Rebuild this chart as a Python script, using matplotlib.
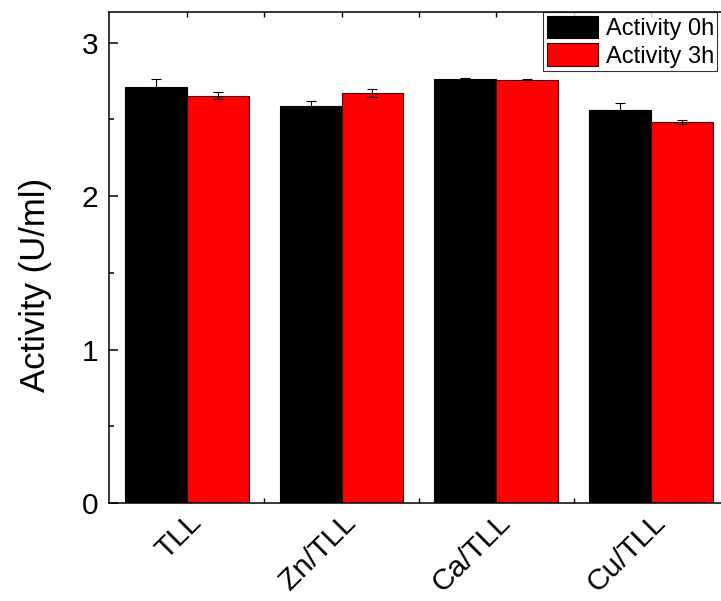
import numpy as np
import matplotlib
matplotlib.use("Agg")
import matplotlib.pyplot as plt
from matplotlib.ticker import MultipleLocator, FixedLocator
from matplotlib.transforms import ScaledTranslation

plt.rcParams['font.family'] = ['Liberation Sans', 'DejaVu Sans']

categories = ["TLL", "Zn/TLL", "Ca/TLL", "Cu/TLL"]
act_0h = [2.713, 2.589, 2.763, 2.562]
err_0h = [0.050, 0.033, 0.004, 0.043]
act_3h = [2.655, 2.674, 2.759, 2.485]
err_3h = [0.022, 0.026, 0.004, 0.014]
series_labels = ["Activity 0h", "Activity 3h"]

W, H = 721, 601
fig = plt.figure(figsize=(W/100, H/100), dpi=100)
ax = fig.add_axes([109.5/W, (H-503)/H, 618.8/W, 491/H])

x = np.arange(len(categories))
bw = 0.4
ax.bar(x - bw/2, act_0h, bw, color='black', edgecolor='black', linewidth=0.8,
       yerr=err_0h, capsize=3.6, error_kw=dict(ecolor='black', elinewidth=0.8, capthick=0.8),
       label=series_labels[0])
ax.bar(x + bw/2, act_3h, bw, color='#ff0000', edgecolor='#400000', linewidth=0.8,
       yerr=err_3h, capsize=3.6, error_kw=dict(ecolor='black', elinewidth=0.8, capthick=0.8),
       label=series_labels[1])

ax.set_xlim(-0.5, 3.5)
ax.set_ylim(0, 3.2)
ax.yaxis.set_major_locator(MultipleLocator(1))
ax.yaxis.set_minor_locator(MultipleLocator(0.5))
ax.set_xticks(x)
ax.set_xticklabels(categories, rotation=45, ha='right', va='top', rotation_mode='anchor', fontsize=21.5)
ax.xaxis.set_minor_locator(FixedLocator(x[:-1] + 0.5))
offset = ScaledTranslation(10/100, 0, fig.dpi_scale_trans)
for lab in ax.get_xticklabels():
    lab.set_transform(lab.get_transform() + offset)

for s in ax.spines.values():
    s.set_linewidth(1.1)

ax.tick_params(axis='y', which='major', direction='in', length=6.5, width=1.1, labelsize=21.5, pad=8)
ax.tick_params(axis='y', which='minor', direction='in', length=3.6, width=1.1)
ax.tick_params(axis='x', which='major', direction='in', length=0, top=True, pad=4)
ax.tick_params(axis='x', which='minor', direction='in', length=3.5, width=1.0, top=True)
ax.set_ylabel("Activity (U/ml)", fontsize=25)
ax.yaxis.set_label_coords(-0.093, 0.444)

# top-axis ticks at category centres
sec = ax.secondary_xaxis('top')
sec.set_xticks(x)
sec.set_xticklabels([])
sec.tick_params(direction='in', length=3.5, width=1.0)
sec.spines['top'].set_visible(False)

leg = ax.legend(loc='upper left', bbox_to_anchor=(543/W, (H-12)/H),
                bbox_transform=fig.transFigure, fontsize=17, frameon=True, fancybox=False,
                borderpad=0.15, borderaxespad=0.0, handlelength=2.2, handleheight=1.1,
                handletextpad=0.3, labelspacing=0.15)
leg.get_frame().set_edgecolor('black')
leg.get_frame().set_linewidth(0.8)

fig.savefig("out.png", dpi=100)
